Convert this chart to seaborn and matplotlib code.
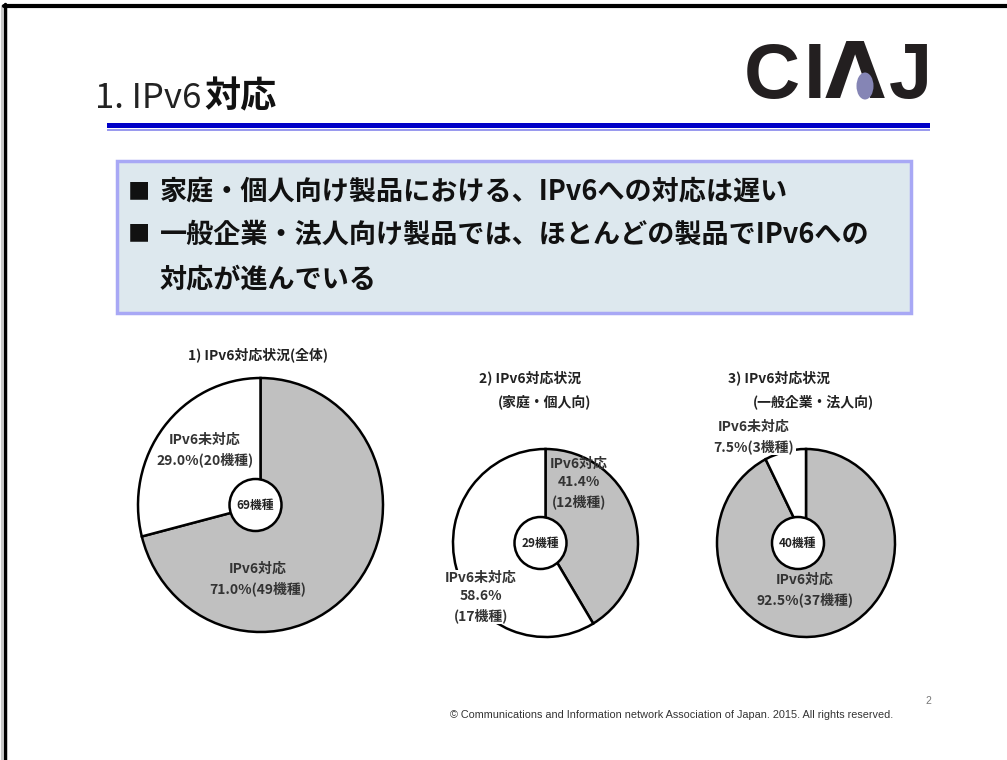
import numpy as np
import matplotlib
matplotlib.use("Agg")
import matplotlib.pyplot as plt
import seaborn as sns
from matplotlib.patches import Rectangle, Ellipse

# data
pie_titles = [["1) IPv6対応状況(全体)"],
              ["2) IPv6対応状況", "(家庭・個人向)"],
              ["3) IPv6対応状況", "(一般企業・法人向)"]]
supported = [49, 12, 37]
unsupported = [20, 17, 3]
bullets = ["家庭・個人向け製品における、IPv6への対応は遅い",
           "一般企業・法人向け製品では、ほとんどの製品でIPv6への",
           "対応が進んでいる"]

sns.set_theme(style="white")
plt.rcParams['font.family'] = ['Noto Sans CJK JP', 'DejaVu Sans']

W, H = 1007, 760
fig = plt.figure(figsize=(W / 100, H / 100), dpi=100)
fig.patch.set_facecolor("white")

# background layer in pixel coords
bg = fig.add_axes([0, 0, 1, 1])
bg.set_xlim(0, W)
bg.set_ylim(H, 0)
bg.axis("off")

# slide frame
bg.plot([2, 2], [6, H], color="#c8c8c8", lw=1.5)
bg.plot([4.5, 4.5], [4, H], color="black", lw=2.5)
bg.plot([3.5, W], [5.5, 5.5], color="black", lw=3)

# blue rule under title
bg.add_patch(Rectangle((107, 122.5), 823, 5, color="#0000c8", lw=0))
bg.add_patch(Rectangle((107, 128.5), 823, 2.2, color="#9a9aee", lw=0))

# summary box
bg.add_patch(Rectangle((117, 161), 794, 152, facecolor="#dde8ee",
                       edgecolor="#a8a8f5", lw=2.5))

# pies
boxes = [(138, 378, 383, 632), (453, 449, 638, 637), (717, 449, 895, 637)]
hole_r = 26
hole_dx = [-5, -5, -8]
pie_axes = []
for i in range(3):
    x0, y0, x1, y1 = boxes[i]
    ax = fig.add_axes([x0 / W, 1 - y1 / H, (x1 - x0) / W, (y1 - y0) / H])
    wedges, _ = ax.pie([supported[i], unsupported[i]],
                       colors=["#c0c0c0", "white"],
                       startangle=90, counterclock=False,
                       wedgeprops=dict(edgecolor="black", linewidth=1.8))
    for w in wedges:
        w.set_clip_on(False)
    ax.set_aspect("auto")
    ax.set_xlim(-1, 1)
    ax.set_ylim(-1, 1)
    rx = (x1 - x0) / 2
    ry = (y1 - y0) / 2
    hole = Ellipse((hole_dx[i] / rx, 0), 2 * hole_r / rx, 2 * hole_r / ry,
                   facecolor="white", edgecolor="black", lw=1.8, zorder=5)
    hole.set_clip_on(False)
    ax.add_patch(hole)
    ax.axis("off")
    pie_axes.append(ax)

# text layer on top
tx = fig.add_axes([0, 0, 1, 1])
tx.set_xlim(0, W)
tx.set_ylim(H, 0)
tx.axis("off")
tx.patch.set_alpha(0)

# title
tx.text(95, 98, "1. IPv6", fontsize=25, va="center", ha="left", color="#222222")
tx.text(204, 97, "対応", fontsize=26, fontweight="bold", va="center", ha="left",
        color="#111111")

# logo
logo_font = dict(fontweight="bold", fontsize=56, color="#231f20", va="baseline")
tx.text(744, 98, "C", family="Liberation Sans", **logo_font)
tx.text(804, 98, "I", family="Liberation Sans", **logo_font)
tx.text(825, 98, "Λ", family="DejaVu Sans", **logo_font)
tx.text(889, 98, "J", family="Liberation Sans", **logo_font)
tx.add_patch(Ellipse((865, 86), 17, 27, color="#8585b5", lw=0, zorder=5))

# bullets
bullet_y = [192, 234, 280]
for k, line in enumerate(bullets):
    if k < 2:
        tx.text(128, bullet_y[k], "■", fontsize=16, va="center", ha="left",
                color="#111111")
    tx.text(160, bullet_y[k], line, fontsize=19.5, fontweight="bold",
            va="center", ha="left", color="#111111")

# pie titles
title_pos = [[(258, 355)], [(530, 378), (545, 402)], [(779, 378), (813, 402)]]
for i in range(3):
    for line, (x, y) in zip(pie_titles[i], title_pos[i]):
        tx.text(x, y, line, fontsize=10, fontweight="bold", ha="center",
                va="center", color="#222222")

# wedge labels
totals = [s + u for s, u in zip(supported, unsupported)]
pct_s = [100 * s / t for s, t in zip(supported, totals)]
pct_u = [100 * u / t for u, t in zip(unsupported, totals)]

lab_s = [f"IPv6対応\n{pct_s[0]:.1f}%({supported[0]}機種)",
         f"IPv6対応\n{pct_s[1]:.1f}%\n({supported[1]}機種)",
         f"IPv6対応\n{pct_s[2]:.1f}%({supported[2]}機種)"]
lab_u = [f"IPv6未対応\n{pct_u[0]:.1f}%({unsupported[0]}機種)",
         f"IPv6未対応\n{pct_u[1]:.1f}%\n({unsupported[1]}機種)",
         f"IPv6未対応\n{pct_u[2]:.1f}%({unsupported[2]}機種)"]
pos_s = [(258, 579), (579, 483), (805, 590)]
pos_u = [(205, 450), (481, 597), (754, 437)]
box_u = [False, True, True]

for i in range(3):
    tx.text(*pos_s[i], lab_s[i], fontsize=10, fontweight="bold", ha="center",
            va="center", color="#333333", linespacing=1.4)
    bbox = dict(facecolor="white", edgecolor="none", pad=1) if box_u[i] else None
    tx.text(*pos_u[i], lab_u[i], fontsize=10, fontweight="bold", ha="center",
            va="center", color="#333333", linespacing=1.4, bbox=bbox)

hole_pos = [(255, 505), (540, 543), (797, 543)]
for i in range(3):
    tx.text(*hole_pos[i], f"{totals[i]}機種", fontsize=8.5, fontweight="bold",
            ha="center", va="center", color="#222222")

# footer
tx.text(672, 715, "© Communications and Information network Association of Japan. 2015. All rights reserved.",
        family="Liberation Sans", fontsize=7.8, ha="center", va="center",
        color="#333333")
tx.text(928, 701, "2", family="Liberation Sans", fontsize=7.5, ha="center",
        va="center", color="#777777")

fig.savefig("out.png", dpi=100)
